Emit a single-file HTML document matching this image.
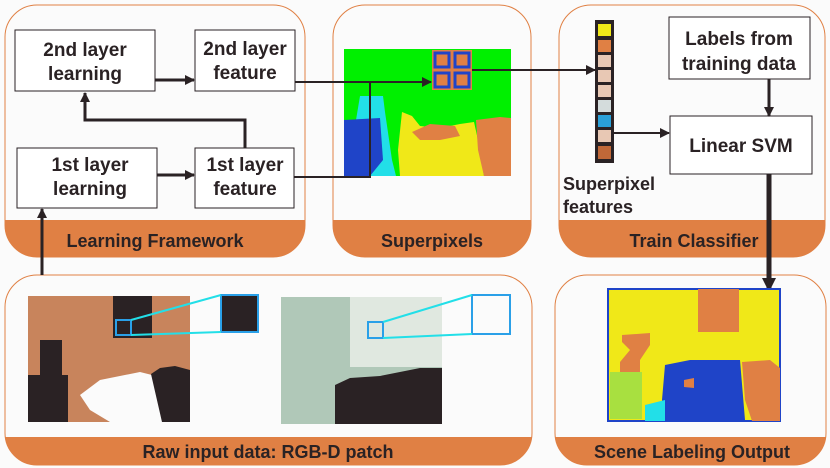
<!DOCTYPE html>
<html><head><meta charset="utf-8"><style>
html,body{margin:0;padding:0;background:#fbfbfb;}
svg{display:block}
text{font-family:"Liberation Sans",sans-serif;font-weight:bold;fill:#2a2224;}
</style></head><body>
<svg width="830" height="468" viewBox="0 0 830 468" xmlns="http://www.w3.org/2000/svg">
<defs>
<clipPath id="c1"><rect x="5" y="5" width="300" height="252" rx="32"/></clipPath>
<clipPath id="c2"><rect x="333" y="5" width="198" height="252" rx="32"/></clipPath>
<clipPath id="c3"><rect x="559" y="5" width="266" height="252" rx="32"/></clipPath>
<clipPath id="c4"><rect x="5" y="275" width="527" height="190" rx="32"/></clipPath>
<clipPath id="c6"><rect x="555" y="275" width="271" height="190" rx="32"/></clipPath>
<marker id="ah" markerWidth="10" markerHeight="10" refX="9" refY="5" orient="auto" markerUnits="userSpaceOnUse"><path d="M0,0 L10,5 L0,10 Z" fill="#2a2224"/></marker>
<marker id="ah2" markerWidth="14" markerHeight="14" refX="12" refY="7" orient="auto" markerUnits="userSpaceOnUse"><path d="M0,0 L14,7 L0,14 Z" fill="#2a2224"/></marker>
</defs>
<g fill="#fbfbfb" stroke="#e08044" stroke-width="1">
<rect x="5" y="5" width="300" height="252" rx="32"/>
<rect x="333" y="5" width="198" height="252" rx="32"/>
<rect x="559" y="5" width="266" height="252" rx="32"/>
<rect x="5" y="275" width="527" height="190" rx="32"/>
<rect x="555" y="275" width="271" height="190" rx="32"/>
</g>
<rect x="0" y="220" width="310" height="40" fill="#e08044" clip-path="url(#c1)"/>
<rect x="330" y="220" width="205" height="40" fill="#e08044" clip-path="url(#c2)"/>
<rect x="555" y="220" width="275" height="40" fill="#e08044" clip-path="url(#c3)"/>
<rect x="0" y="437" width="540" height="30" fill="#e08044" clip-path="url(#c4)"/>
<rect x="550" y="437" width="280" height="30" fill="#e08044" clip-path="url(#c6)"/>
<text x="155" y="247" font-size="18" text-anchor="middle">Learning Framework</text>
<text x="432" y="247" font-size="18" text-anchor="middle">Superpixels</text>
<text x="694" y="247" font-size="18" text-anchor="middle">Train Classifier</text>
<text x="692" y="458" font-size="18" text-anchor="middle">Scene Labeling Output</text>
<text x="268" y="458" font-size="18" text-anchor="middle">Raw input data:  RGB-D patch</text>

<g fill="#fff" stroke="#2a2224" stroke-width="1">
<rect x="15" y="30" width="140" height="61"/>
<rect x="195" y="30" width="100" height="61"/>
<rect x="17" y="148" width="140" height="60"/>
<rect x="195" y="148" width="99" height="60"/>
<rect x="669" y="17" width="141" height="62"/>
<rect x="670" y="116" width="142" height="58"/>
</g>
<g font-size="19" text-anchor="middle">
<text x="85" y="56">2nd layer</text><text x="85" y="80">learning</text>
<text x="245" y="55">2nd layer</text><text x="245" y="79">feature</text>
<text x="90" y="171">1st layer</text><text x="90" y="195">learning</text>
<text x="245" y="171">1st layer</text><text x="245" y="195">feature</text>
<text x="739" y="45">Labels from</text><text x="739" y="70">training data</text>
<text x="741" y="152">Linear SVM</text>
</g>
<text x="563" y="190" font-size="18">Superpixel</text>
<text x="563" y="213" font-size="18">features</text>

<g>
<rect x="344" y="49" width="167" height="127" fill="#00f000"/>
<path d="M344,120 L356,120 L360,96 L383,96 L385,112 L392,160 L396,176 L344,176Z" fill="#22dfe8"/>
<path d="M344,120 L380,118 L383,160 L370,176 L344,176Z" fill="#1f44c8"/>
<path d="M402,112 L412,116 L420,126 L440,128 L460,124 L474,122 L478,140 L484,176 L400,176 L398,150Z" fill="#f0e818"/>
<path d="M412,132 L430,124 L455,126 L460,136 L440,140 L420,140Z" fill="#e08044"/>
<path d="M476,120 L500,117 L511,118 L511,176 L484,176 L478,150Z" fill="#e08044"/>
<rect x="432" y="50" width="40" height="40" fill="#e08044"/>
<g fill="none" stroke="#1f44c8" stroke-width="3">
<rect x="435" y="53" width="14" height="14"/><rect x="455" y="53" width="14" height="14"/>
<rect x="435" y="73" width="14" height="14"/><rect x="455" y="73" width="14" height="14"/>
</g>
</g>

<rect x="595" y="20" width="19" height="143" fill="#2a2224"/>
<rect x="598" y="24" width="13" height="12" fill="#f0e818"/>
<rect x="598" y="40" width="13" height="12" fill="#e08044"/>
<rect x="598" y="55" width="13" height="12" fill="#e8c8b4"/>
<rect x="598" y="70" width="13" height="12" fill="#e8c8b4"/>
<rect x="598" y="85" width="13" height="12" fill="#e8c8b4"/>
<rect x="598" y="100" width="13" height="12" fill="#d4dcdc"/>
<rect x="598" y="115" width="13" height="12" fill="#2aa0d8"/>
<rect x="598" y="130" width="13" height="12" fill="#e8c8b4"/>
<rect x="598" y="146" width="13" height="13" fill="#c06838"/>

<g stroke="#2a2224" stroke-width="3" fill="none">
<line x1="155" y1="80" x2="194" y2="80" marker-end="url(#ah)"/>
<line x1="157" y1="175" x2="194" y2="175" marker-end="url(#ah)"/>
<polyline points="245,148 245,120 85,120 85,93" marker-end="url(#ah)"/>
<line x1="42" y1="275" x2="42" y2="209" marker-end="url(#ah)"/>
<line x1="295" y1="82" x2="431" y2="82" marker-end="url(#ah)" stroke-width="2"/>
<polyline points="294,177 370,177 370,82" stroke-width="2"/>
<line x1="472" y1="70" x2="595" y2="70" marker-end="url(#ah)" stroke-width="2"/>
<line x1="614" y1="133" x2="669" y2="133" marker-end="url(#ah)" stroke-width="2"/>
<line x1="769" y1="79" x2="769" y2="116" marker-end="url(#ah)"/>
<line x1="769" y1="174" x2="769" y2="290" marker-end="url(#ah2)" stroke-width="5"/>
</g>

<rect x="28" y="296" width="162" height="126" fill="#c8845c"/>
<rect x="113" y="296" width="39" height="42" fill="#2a2224"/>
<rect x="28" y="375" width="40" height="47" fill="#2a2224"/>
<rect x="40" y="340" width="22" height="35" fill="#2a2224"/>
<path d="M80,395 L100,380 L140,372 L152,375 L162,398 L162,422 L110,422 L90,410Z" fill="#fbfbfb"/>
<path d="M151,374 L160,368 L175,366 L190,370 L190,422 L162,422Z" fill="#2a2224"/>
<rect x="116" y="320" width="15" height="15" fill="none" stroke="#2aa0e8" stroke-width="2"/>
<rect x="221" y="295" width="37" height="37" fill="#2a2224" stroke="#2aa0e8" stroke-width="2"/>
<line x1="131" y1="320" x2="221" y2="295" stroke="#22dfe8" stroke-width="2"/>
<line x1="131" y1="335" x2="221" y2="332" stroke="#22dfe8" stroke-width="2"/>

<rect x="281" y="297" width="161" height="127" fill="#b0c8b8"/>
<rect x="350" y="297" width="92" height="70" fill="#e0e8e0"/>
<path d="M335,385 L350,378 L380,376 L410,370 L420,368 L442,368 L442,424 L335,424Z" fill="#2a2224"/>
<rect x="368" y="322" width="15" height="16" fill="none" stroke="#2aa0e8" stroke-width="2"/>
<rect x="472" y="295" width="38" height="39" fill="#fbfbfb" stroke="#2aa0e8" stroke-width="2"/>
<line x1="383" y1="322" x2="472" y2="295" stroke="#22dfe8" stroke-width="2"/>
<line x1="383" y1="338" x2="472" y2="334" stroke="#22dfe8" stroke-width="2"/>

<rect x="608" y="289" width="172" height="132" fill="#f0e818" stroke="#1f44c8" stroke-width="2"/>
<rect x="698" y="289" width="41" height="43" fill="#e08044"/>
<path d="M622,335 L650,333 L650,345 L640,360 L640,378 L620,378 L620,362 L630,350 L622,342Z" fill="#e08044"/>
<rect x="610" y="372" width="32" height="47" fill="#a8e040"/>
<path d="M665,365 L690,360 L740,360 L745,420 L665,420 L662,400Z" fill="#1f44c8"/>
<path d="M742,362 L770,360 L780,368 L780,421 L752,421 L745,400Z" fill="#e08044"/>
<path d="M645,405 L665,400 L665,421 L645,421Z" fill="#22dfe8"/>
<path d="M684,380 L694,378 L694,388 L684,387Z" fill="#e08044"/>
</svg>
</body></html>
